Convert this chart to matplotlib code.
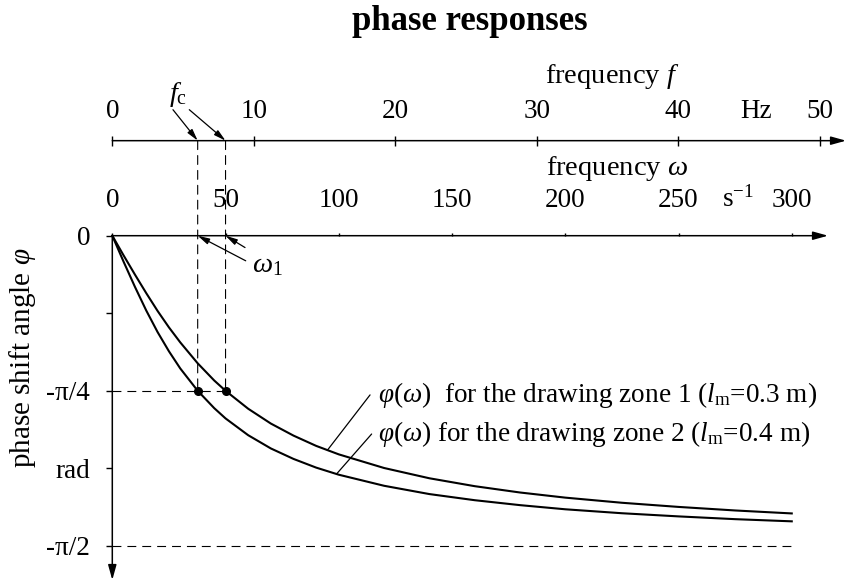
import numpy as np
import matplotlib
matplotlib.use("Agg")
import matplotlib.pyplot as plt
import matplotlib.transforms as mtransforms
from matplotlib.patches import ConnectionPatch

# ── values ───────────────────────────────────────────────────────────────────
omega = [0, 5, 10, 15, 20, 25, 30, 37.7, 45, 50, 60, 70, 80, 90, 100,
         120, 140, 160, 180, 200, 225, 250, 275, 300]
phi_zone1 = [0, -0.100, -0.197, -0.291, -0.381, -0.464, -0.540, -0.646,
             -0.733, -0.785, -0.876, -0.951, -1.012, -1.064, -1.107, -1.176,
             -1.228, -1.268, -1.300, -1.326, -1.352, -1.373, -1.391, -1.406]
phi_zone2 = [0, -0.132, -0.259, -0.379, -0.488, -0.585, -0.672, -0.785,
             -0.873, -0.925, -1.010, -1.077, -1.130, -1.174, -1.210, -1.266,
             -1.308, -1.339, -1.364, -1.385, -1.405, -1.421, -1.435, -1.446]
omega_c = [37.7, 50.0]            # corner frequencies (s^-1), zone 2 / zone 1

omega_ticks = [0, 50, 100, 150, 200, 250, 300]
f_ticks = [0, 10, 20, 30, 40, 50]
phi_ticks = [0, -np.pi / 8, -np.pi / 4, -3 * np.pi / 8, -np.pi / 2]
phi_ticklabels = ["0", "", "-π/4", "rad", "-π/2"]

zone_labels = [
    r"$\varphi(\omega)$  for the drawing zone 1 ($l_\mathrm{m}$=0.3 m)",
    r"$\varphi(\omega)$ for the drawing zone 2 ($l_\mathrm{m}$=0.4 m)",
]

# ── style ────────────────────────────────────────────────────────────────────
plt.rcParams["font.family"] = ["Liberation Serif", "DejaVu Serif"]
plt.rcParams["mathtext.fontset"] = "custom"
plt.rcParams["mathtext.rm"] = "Liberation Serif"
plt.rcParams["mathtext.it"] = "Liberation Serif:italic"
plt.rcParams["mathtext.bf"] = "Liberation Serif:bold"

FS_TICK = 19.5      # tick labels
FS_LAB = 20.5       # axis names
FS_CURVE = 19.6     # curve labels
DASH = (0, (8, 5.4))
AX_ARROW = "-|>,head_length=0.9,head_width=0.25"
SMALL_ARROW = "-|>,head_length=0.7,head_width=0.18"

W, H = 847, 583


def fx(px):
    return px / W


def fy(py):
    return 1 - py / H


fig = plt.figure(figsize=(W / 100, H / 100), dpi=100)

# ── main axes: omega vs phase ────────────────────────────────────────────────
ax = fig.add_axes([fx(112.3), fy(580), fx(828) - fx(112.3), fy(235.7) - fy(580)])
ax.set_xlim(0, 316)
ax.set_ylim(-1.743, 0)
ax.patch.set_visible(False)
for s in ax.spines.values():
    s.set_visible(False)

ax.annotate("", xy=(1, 1), xytext=(0, 1), xycoords="axes fraction",
            arrowprops=dict(arrowstyle=AX_ARROW, color="k", lw=1.1,
                            shrinkA=0, shrinkB=0))
ax.annotate("", xy=(0, 0), xytext=(0, 1), xycoords="axes fraction",
            arrowprops=dict(arrowstyle=AX_ARROW, color="k", lw=1.1,
                            shrinkA=0, shrinkB=0))

ax.xaxis.tick_top()
ax.set_xticks(omega_ticks)
ax.tick_params(axis="x", direction="out", length=2.5, width=1, pad=14,
               labelsize=FS_TICK)
ax.set_yticks(phi_ticks, phi_ticklabels)
ax.tick_params(axis="y", direction="out", length=4, width=1, pad=12,
               labelsize=FS_TICK)

ax.text(222.8, 0, r"frequency $\omega$", fontsize=FS_LAB, ha="center",
        va="baseline", transform=ax.transData + mtransforms.ScaledTranslation(
            0, 43.7 / 72, fig.dpi_scale_trans))
ax.text(276.2, 0, r"s$^{-1}$", fontsize=FS_TICK, ha="center", va="baseline",
        transform=ax.transData + mtransforms.ScaledTranslation(
            0, 21 / 72, fig.dpi_scale_trans))

# curves
ax.plot(omega, phi_zone1, color="k", lw=1.5, clip_on=False)
ax.plot(omega, phi_zone2, color="k", lw=1.5, clip_on=False)

# reference lines
ax.plot([0, max(omega_c)], [-np.pi / 4] * 2, color="k", lw=0.8, ls=DASH)
ax.plot([0, omega[-1]], [-np.pi / 2] * 2, color="k", lw=0.8, ls=DASH)
ax.plot(omega_c, [-np.pi / 4] * 2, "o", color="k", ms=5.5, clip_on=False)

# omega_1 markers
ax.text(61.5, -0.15, r"$\omega_1$", fontsize=FS_LAB, ha="left", va="center")
for w, tail in zip(omega_c, [(58.9, -0.127), (58.6, -0.060)]):
    ax.annotate("", xy=(w, 0), xytext=tail,
                arrowprops=dict(arrowstyle=SMALL_ARROW, color="k", lw=0.9,
                                shrinkA=0, shrinkB=0))

# curve labels with leader lines
for phi, lab, lx, ex, tx, ty in zip(
        [phi_zone1, phi_zone2], zone_labels,
        [95, 99], [113.8, 114.5], [117.3, 117.3], [-0.806, -1.004]):
    ax.annotate("", xy=(lx, np.interp(lx, omega, phi)), xytext=(ex, ty),
                arrowprops=dict(arrowstyle="-", color="k", lw=0.9,
                                shrinkA=0, shrinkB=0))
    ax.text(tx, ty, lab, fontsize=FS_CURVE, ha="left", va="center")

# ── frequency f axis ─────────────────────────────────────────────────────────
ax_f = fig.add_axes([fx(112.3), fy(140.7), fx(846) - fx(112.3), 1e-4])
ax_f.set_xlim(0, 51.84)
ax_f.patch.set_visible(False)
for s in ax_f.spines.values():
    s.set_visible(False)
ax_f.yaxis.set_visible(False)
ax_f.xaxis.tick_top()
ax_f.set_xticks(f_ticks)
ax_f.tick_params(axis="x", direction="inout", length=6.5, width=1, pad=8.8,
                 labelsize=FS_TICK)
ax_f.annotate("", xy=(1, 0.5), xytext=(0, 0.5), xycoords="axes fraction",
              arrowprops=dict(arrowstyle=AX_ARROW, color="k", lw=1.1,
                              shrinkA=0, shrinkB=0))

ax_f.annotate(r"frequency $f$", xy=(35.3, 0.5),
              xycoords=("data", "axes fraction"), xytext=(0, 41.3),
              textcoords="offset points", ha="center", va="baseline",
              fontsize=FS_LAB)
ax_f.annotate("Hz", xy=(45.5, 0.5), xycoords=("data", "axes fraction"),
              xytext=(0, 16.1), textcoords="offset points", ha="center",
              va="baseline", fontsize=FS_TICK)
ax_f.annotate(r"$f_\mathrm{c}$", xy=(4.64, 0.5),
              xycoords=("data", "axes fraction"), xytext=(0, 33.6),
              textcoords="offset points", ha="center", va="center",
              fontsize=FS_LAB)

# vertical guides from the f axis down to -pi/4, and f_c arrows
trans_fx = mtransforms.blended_transform_factory(ax.transData, ax_f.transAxes)
for w, (dx, dy) in zip(omega_c, [(-17.8, 22.3), (-26.1, 22.3)]):
    con = ConnectionPatch(xyA=(w, 0.5), coordsA=trans_fx,
                          xyB=(w, -np.pi / 4), coordsB=ax.transData,
                          color="k", lw=0.8, ls=DASH)
    fig.add_artist(con)
    ax_f.annotate("", xy=(w, 0.5), xycoords=trans_fx, xytext=(dx, dy),
                  textcoords="offset points",
                  arrowprops=dict(arrowstyle=SMALL_ARROW, color="k", lw=0.9,
                                  shrinkA=0, shrinkB=0))

# ── titles ───────────────────────────────────────────────────────────────────
fig.text(fx(470), fy(30), "phase responses", fontsize=25, fontweight="bold",
         ha="center", va="baseline")
fig.text(fx(22), fy(358), r"phase shift angle $\varphi$", fontsize=21,
         rotation=90, ha="center", va="center")

fig.savefig("out.png", dpi=100)
